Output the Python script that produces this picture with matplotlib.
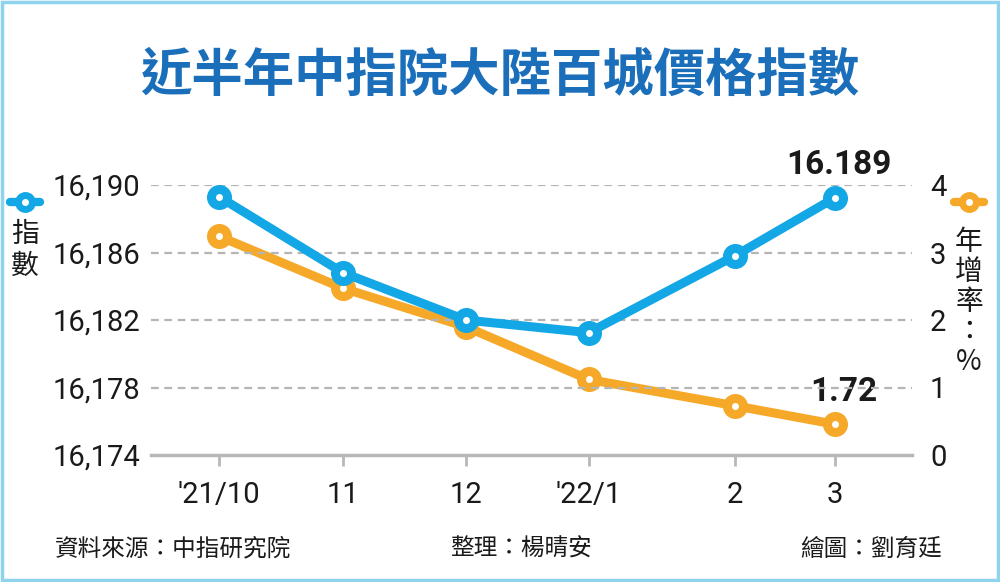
import matplotlib
matplotlib.use("Agg")
import matplotlib.pyplot as plt
from matplotlib.lines import Line2D
from matplotlib.patches import Rectangle
from matplotlib.ticker import FuncFormatter

plt.rcParams["font.family"] = ["Noto Sans CJK TC", "DejaVu Sans"]

# 資料
months = ["'21/10", "11", "12", "'22/1", "2", "3"]
index_vals = [16189.3, 16184.8, 16182.0, 16181.25, 16185.8, 16189.25]
yoy_vals = [3.24, 2.47, 1.90, 1.12, 0.73, 0.455]
index_label = "16.189"
yoy_label = "1.72"

# 月份在橫軸上的位置 (原圖間距不等)
xpos = [0, 1, 1.99, 2.98, 4.16, 4.97]

BLUE = "#13a7e6"
ORANGE = "#f6a929"
GRID = "#b5b5b5"
NUM_FONT = ["Roboto", "Noto Sans CJK TC", "DejaVu Sans"]

fig = plt.figure(figsize=(10, 5.82), dpi=100)
fig.patches.append(Rectangle((0.002, 0.003), 0.996, 0.994, transform=fig.transFigure,
                             fill=False, edgecolor="#8fd3ee", linewidth=2.5))

ax = fig.add_axes([0.151, 1 - 455 / 582, 0.761, (455 - 185) / 582])
ax2 = ax.twinx()

ax.set_xlim(-0.55, 5.59)
ax.set_ylim(16174, 16190)
ax2.set_ylim(0, 4)

for a in (ax, ax2):
    for s in ["top", "left", "right"]:
        a.spines[s].set_visible(False)
ax2.spines["bottom"].set_visible(False)
ax.spines["bottom"].set_color("#b8b8b8")
ax.spines["bottom"].set_linewidth(2.5)

# 格線
for yv in [16178, 16182, 16186, 16190]:
    ax.axhline(yv, color=GRID, linestyle=(0, (3.5, 2.5)), linewidth=1.6, zorder=0)

ax.set_yticks([16174, 16178, 16182, 16186, 16190])
ax.yaxis.set_major_formatter(FuncFormatter(lambda v, p: f"{int(v):,}"))
ax2.set_yticks([0, 1, 2, 3, 4])
ax.tick_params(axis="y", length=0, pad=8)
ax2.tick_params(axis="y", length=0, pad=13)
ax.set_xticks(xpos)
ax.set_xticklabels(months)
ax.tick_params(axis="x", length=8, width=2, color="#b8b8b8", pad=11)
for lab in ax.get_yticklabels() + ax2.get_yticklabels() + ax.get_xticklabels():
    lab.set_fontfamily(NUM_FONT)
    lab.set_fontsize(21)
    lab.set_color("#1a1a1a")

# 折線
ax2.plot(xpos, yoy_vals, color=ORANGE, lw=6.5, marker="o", ms=17,
         mfc=ORANGE, mec=ORANGE, zorder=3, solid_capstyle="round")
ax2.plot(xpos, yoy_vals, ls="none", marker="o", ms=4, mfc="white", mec="white", zorder=4)
ax.set_zorder(ax2.get_zorder() + 1)
ax.patch.set_visible(False)
ax.plot(xpos, index_vals, color=BLUE, lw=6.5, marker="o", ms=17,
        mfc=BLUE, mec=BLUE, zorder=3, solid_capstyle="round")
ax.plot(xpos, index_vals, ls="none", marker="o", ms=4, mfc="white", mec="white", zorder=4)

# 數值標籤
ax.annotate(index_label, (xpos[-1], index_vals[-1]), xytext=(3, 12), textcoords="offset points",
            ha="center", va="bottom", fontsize=24, fontweight="bold",
            family=NUM_FONT, color="#1a1a1a")
ax2.annotate(yoy_label, (xpos[-1], yoy_vals[-1]), xytext=(6, 12), textcoords="offset points",
             ha="center", va="bottom", fontsize=24, fontweight="bold",
             family=NUM_FONT, color="#1a1a1a")

# 標題
fig.text(0.5, 1 - 75 / 582, "近半年中指院大陸百城價格指數", ha="center", va="center",
         fontsize=37, fontweight="bold", color="#1b6fba")

# 軸名與圖例符號
for xc, col in [(25, BLUE), (969, ORANGE)]:
    x0 = (xc - 15) / 1000
    x1 = (xc + 15) / 1000
    yc = 1 - 202 / 582
    fig.add_artist(Line2D([x0, x1], [yc, yc], color=col, lw=6, solid_capstyle="round",
                          transform=fig.transFigure))
    fig.add_artist(Line2D([(x0 + x1) / 2], [yc], marker="o", ms=14, color=col,
                          transform=fig.transFigure))
    fig.add_artist(Line2D([(x0 + x1) / 2], [yc], marker="o", ms=4, color="white",
                          transform=fig.transFigure))

fig.text(25 / 1000, 1 - 250 / 582, "指\n數", ha="center", va="center",
         fontsize=20, linespacing=1.05, color="#1a1a1a")
fig.text(969 / 1000, 1 - 302 / 582, "年\n增\n率\n：\n%", ha="center", va="center",
         fontsize=20, linespacing=1.0, color="#1a1a1a")

# 註腳
fig.text(55 / 1000, 1 - 549 / 582, "資料來源：中指研究院", ha="left", va="center",
         fontsize=17, color="#1a1a1a")
fig.text(450 / 1000, 1 - 549 / 582, "整理：楊晴安", ha="left", va="center",
         fontsize=17, color="#1a1a1a")
fig.text(942 / 1000, 1 - 549 / 582, "繪圖：劉育廷", ha="right", va="center",
         fontsize=17, color="#1a1a1a")

fig.savefig("out.png", dpi=100)
